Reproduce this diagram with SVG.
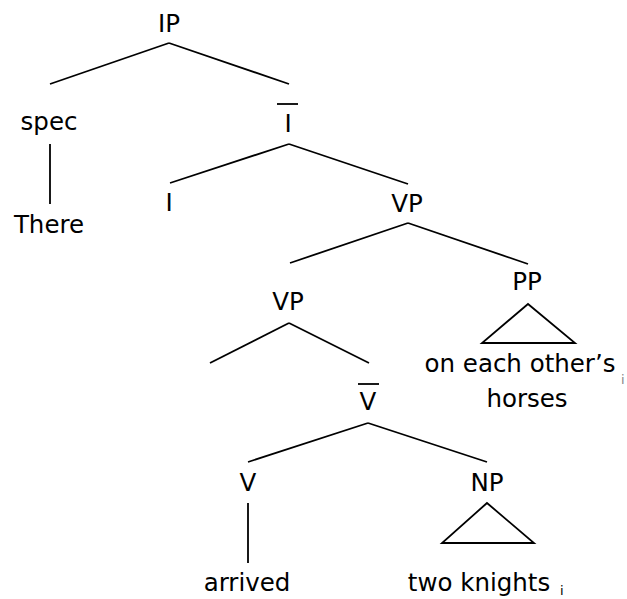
<svg xmlns="http://www.w3.org/2000/svg" width="627" height="599" viewBox="0 0 627 599">
<style>
text{font-family:"DejaVu Sans","Verdana",sans-serif;font-size:24.5px;fill:#000;text-anchor:middle}
text.sub{font-size:13px;text-anchor:start}
line,polygon{stroke:#000;stroke-width:1.8;fill:none}
</style>
<rect width="627" height="599" fill="#fff"/>
<g id="connectors">
<line x1="169" y1="43" x2="50" y2="84"/>
<line x1="169" y1="43" x2="289" y2="84"/>
<line x1="50" y1="144" x2="50" y2="204"/>
<line x1="289" y1="144" x2="170" y2="183"/>
<line x1="289" y1="144" x2="408" y2="184"/>
<line x1="408" y1="223" x2="290" y2="263"/>
<line x1="408" y1="223" x2="528" y2="264"/>
<line x1="289" y1="323" x2="210" y2="363"/>
<line x1="289" y1="323" x2="369" y2="363"/>
<line x1="368" y1="423" x2="248" y2="462"/>
<line x1="368" y1="423" x2="487" y2="462"/>
<line x1="248" y1="503" x2="248" y2="563"/>
<polygon points="528,304 482,343 575,343"/>
<polygon points="487,503 442,543 534,543"/>
</g>
<g id="IP"><text x="169" y="32">IP</text></g>
<g id="spec"><text x="49" y="130">spec</text></g>
<g id="There"><text x="49" y="233">There</text></g>
<g id="Ibar"><text x="288" y="132">I</text><line x1="277" y1="104" x2="298" y2="104"/></g>
<g id="I"><text x="169" y="211">I</text></g>
<g id="VP1"><text x="407" y="212">VP</text></g>
<g id="PP"><text x="527" y="290">PP</text></g>
<g id="PPtext"><text x="520" y="372">on each other’s</text><text x="527" y="407">horses</text><text class="sub" x="621" y="384" style="fill:#888">i</text></g>
<g id="VP2"><text x="288" y="310">VP</text></g>
<g id="Vbar"><text x="368" y="410">V</text><line x1="358" y1="384" x2="379" y2="384"/></g>
<g id="V"><text x="248" y="491">V</text></g>
<g id="NP"><text x="487" y="491">NP</text></g>
<g id="arrived"><text x="247" y="591">arrived</text></g>
<g id="knights"><text x="479" y="591">two knights</text><text class="sub" x="560" y="595">i</text></g>
</svg>
